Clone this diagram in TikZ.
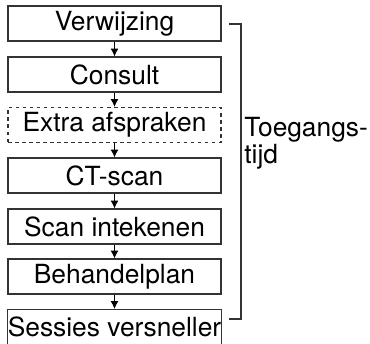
\documentclass[tikz,border=0pt]{standalone}
\usepackage{fontspec}
\setmainfont{TeX Gyre Heros}
\usetikzlibrary{arrows.meta,positioning}

\tikzset{
  stap/.style={draw=black!80,line width=0.6pt,minimum width=4.26cm,minimum height=0.7cm,inner sep=0pt,align=center},
  optioneel/.style={stap,dash pattern=on 2pt off 2pt},
  pijl/.style={->,line width=0.6pt}
}

\begin{document}
\begin{tikzpicture}[>={Latex[length=4.5pt,width=4.5pt]},font=\fontsize{15}{13}\selectfont]
\useasboundingbox (0,0) rectangle (7.4,-6.86);
\node[stap] (verw) at (2.29,-0.47) {Verwijzing};
\node[stap] (cons) at (2.29,-1.49) {Consult};
\node[optioneel] (extra) at (2.29,-2.50) {Extra afspraken};
\node[stap] (ct) at (2.29,-3.51) {CT-scan};
\node[stap] (intek) at (2.29,-4.53) {Scan intekenen};
\node[stap] (plan) at (2.29,-5.53) {Behandelplan};
\node[stap] (sessie) at (2.29,-6.54) {Sessies versneller};

\foreach \a/\b in {verw/cons,cons/extra,extra/ct,ct/intek,intek/plan,plan/sessie}
  \draw[pijl] (\a.south) -- (\b.north);

% accolade voor de toegangstijd
\coordinate (acctop) at (4.58,-0.48);
\coordinate (accbot) at (4.58,-6.38);
\draw[draw=black!80,line width=0.6pt] (acctop) -- ++(0.24,0) |- (accbot);
\node[anchor=west,align=left,inner sep=0pt] (tijd) at (4.88,-2.86) {Toegangs-\\tijd};
\end{tikzpicture}
\end{document}
